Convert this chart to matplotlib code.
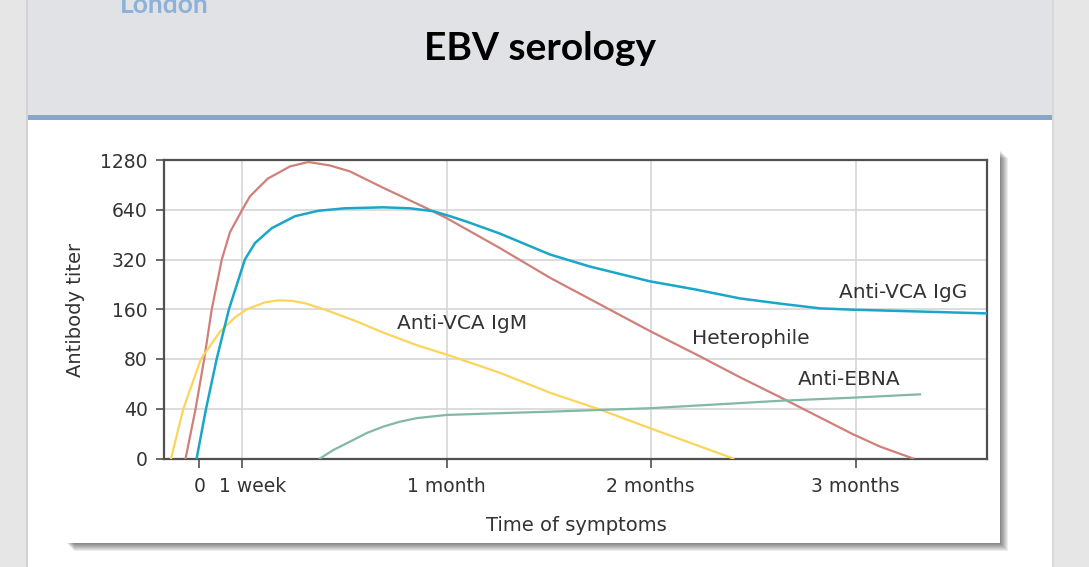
import matplotlib as mpl
import matplotlib.pyplot as plt
from matplotlib.patches import Rectangle
from matplotlib.transforms import ScaledTranslation

mpl.rcParams['font.family'] = 'DejaVu Sans'

W, H = 1089, 567

# time axis: 0 = onset of symptoms, 1 unit ~ 1 month (schematic, not to scale near 0)
tick_pos = [0, 0.209, 1.21, 2.207, 3.21]
tick_lab = ['0', '1 week', '1 month', '2 months', '3 months']

# titer steps; "0" (undetectable) is drawn at 20
titer_ticks = [20, 40, 80, 160, 320, 640, 1280]
titer_lab = ['0', '40', '80', '160', '320', '640', '1280']

het_x = [-0.067, -0.018, 0.024, 0.061, 0.110, 0.150, 0.210, 0.248, 0.289, 0.336,
         0.386, 0.443, 0.533, 0.639, 0.737, 0.900, 1.112, 1.210, 1.470, 1.715,
         1.960, 2.204, 2.448, 2.644, 2.840, 3.197, 3.329, 3.490]
het_y = [20, 40, 80, 160, 320, 468, 640, 772, 868, 990,
         1069, 1170, 1245, 1186, 1091, 868, 653, 569, 375, 248,
         171, 118, 83, 62, 47, 28, 23.6, 20]

igg_x = [-0.013, 0.033, 0.085, 0.145, 0.223, 0.272, 0.354, 0.468, 0.582, 0.712,
         0.900, 1.030, 1.144, 1.226, 1.308, 1.470, 1.715, 1.910, 2.204, 2.424,
         2.644, 2.840, 3.035, 3.197, 3.524, 3.850]
igg_y = [20, 40, 80, 160, 320, 402, 495, 585, 631, 653,
         662, 653, 627, 585, 542, 459, 343, 290, 236, 211,
         186, 173, 162, 159, 155, 151]

igm_x = [-0.138, -0.078, 0.008, 0.101, 0.175, 0.232, 0.321, 0.386, 0.452, 0.517,
         0.615, 0.770, 0.900, 1.063, 1.210, 1.470, 1.715, 1.960, 2.204, 2.611]
igm_y = [20, 40, 80, 117, 143, 160, 176, 181, 180, 174,
         159, 135, 115.5, 97, 85, 66, 50, 39.5, 30.5, 20]

ebna_x = [0.590, 0.655, 0.737, 0.818, 0.900, 0.981, 1.063, 1.210, 1.470, 1.715,
          2.204, 2.546, 2.840, 3.182, 3.524]
ebna_y = [20, 22.5, 25.3, 28.5, 31.2, 33.4, 35.1, 36.7, 37.6, 38.4,
          40.3, 42.6, 44.7, 46.6, 48.9]

fig = plt.figure(figsize=(W / 100, H / 100), dpi=100)
fig.patch.set_facecolor('#e6e6e6')


def box(x0, y0, x1, y1, color, **kw):
    # rectangle given in figure pixels, origin top-left
    fig.patches.append(Rectangle((x0 / W, 1 - y1 / H), (x1 - x0) / W, (y1 - y0) / H,
                                 transform=fig.transFigure, facecolor=color,
                                 edgecolor='none', **kw))


# slide
box(28, 0, 1052, 567, 'white')
box(28, 0, 1052, 115, '#e1e2e6')
box(28, 115, 1052, 120, '#86a7c7')
box(26, 0, 28, 567, '#d2d2d2')
box(1052, 0, 1054, 567, '#dadada')

# picture frame with drop shadow
for d in range(1, 9):
    box(66 + d, 150 + d, 1000 + d, 543 + d, 'black', alpha=0.07)
box(66, 150, 1000, 543, 'white')

fig.text(120 / W, 1 - 13 / H, 'London', fontsize=19, fontweight='bold',
         family='Lato', color='#8cb2d8', va='baseline', ha='left')
fig.text(540 / W, 1 - 60 / H, 'EBV serology', fontsize=28, fontweight='bold',
         family='Lato', color='black', va='baseline', ha='center')

ax = fig.add_axes([163.5 / W, 1 - 458.5 / H, 823.2 / W, 298.5 / H])
ax.set_zorder(5)
ax.set_facecolor('white')

ax.plot(het_x, het_y, color='#cf8078', lw=1.6, zorder=3)
ax.plot(igg_x, igg_y, color='#1aa6c8', lw=1.8, zorder=4)
ax.plot(igm_x, igm_y, color='#fbd55a', lw=1.6, zorder=3)
ax.plot(ebna_x, ebna_y, color='#84b8a4', lw=1.6, zorder=3)

ax.set_yscale('log', base=2)
ax.set_ylim(20, 1280)
ax.set_xlim(-0.175, 3.85)
ax.set_yticks(titer_ticks)
ax.set_yticklabels(titer_lab)
ax.yaxis.set_minor_locator(mpl.ticker.NullLocator())
ax.set_xticks(tick_pos)
ax.set_xticklabels(tick_lab)

ax.grid(True, color='#d6d6d6', lw=1.2, zorder=0)
ax.xaxis.get_gridlines()[0].set_visible(False)
ax.set_axisbelow(True)

for s in ax.spines.values():
    s.set_color('#505050')
    s.set_linewidth(1.6)
ax.tick_params(axis='x', direction='out', length=6.5, width=1.2, color='#505050',
               pad=7, labelsize=13.5, labelcolor='#333333')
ax.tick_params(axis='y', direction='out', length=5.5, width=1.2, color='#505050',
               pad=6, labelsize=13.5, labelcolor='#333333')
wk = ax.get_xticklabels()[1]
wk.set_transform(wk.get_transform() + ScaledTranslation(0.11, 0, fig.dpi_scale_trans))

ax.set_xlabel('Time of symptoms', fontsize=14, color='#333333')
ax.xaxis.label.set_va('center')
ax.xaxis.set_label_coords(0.502, -0.223)
ax.set_ylabel('Antibody titer', fontsize=14, color='#333333')
ax.yaxis.label.set_va('center')
ax.yaxis.set_label_coords(-0.1075, 0.4975)

lab_kw = dict(fontsize=14.5, color='#333333', ha='center', va='center', zorder=6)
ax.text(1.285, 132, 'Anti-VCA IgM', **lab_kw)
ax.text(2.697, 106, 'Heterophile', **lab_kw)
ax.text(3.177, 60, 'Anti-EBNA', **lab_kw)
ax.text(3.441, 201, 'Anti-VCA IgG', **lab_kw)

fig.savefig('out.png', dpi=100)
